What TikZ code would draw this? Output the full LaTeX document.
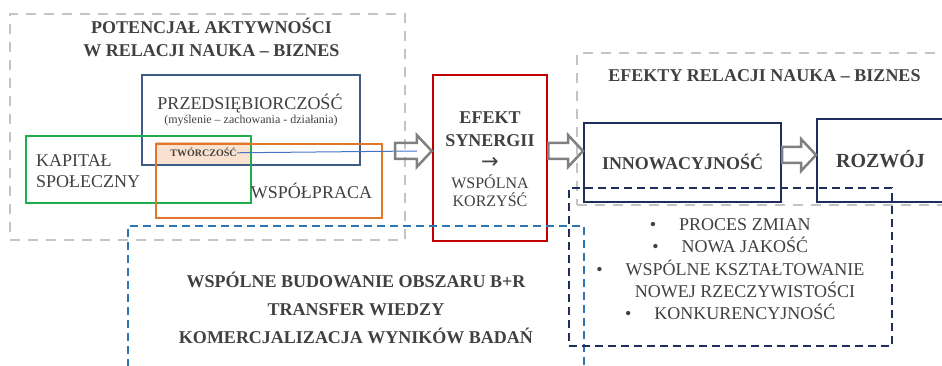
\documentclass[tikz,border=0pt]{standalone}
\usepackage{fontspec}
\setmainfont{Liberation Serif}
\newfontfamily\arrfont{DejaVu Sans}
\usetikzlibrary{calc,positioning}

\definecolor{txtgray}{HTML}{404040}
\definecolor{framegray}{HTML}{C4C4C4}
\definecolor{przedblue}{HTML}{3E5C86}
\definecolor{kapgreen}{HTML}{1FAE4B}
\definecolor{wsporange}{HTML}{E2772C}
\definecolor{tworfill}{HTML}{FBE2D0}
\definecolor{tworline}{HTML}{F2C4A2}
\definecolor{efred}{HTML}{C00000}
\definecolor{navy}{HTML}{1F2E5E}
\definecolor{dashblue}{HTML}{2E75B6}
\definecolor{tieblue}{HTML}{4472C4}
\definecolor{arrgray}{HTML}{808080}

\newcommand{\hdr}{\bfseries\fontsize{18}{22}\selectfont}
\newcommand{\reg}{\fontsize{18}{22}\selectfont}

\tikzset{
  grayframe/.style={draw=framegray, line width=1.5pt, dash pattern=on 10pt off 8pt, inner sep=0pt},
  solidbox/.style={draw, line width=2pt, inner sep=0pt},
  dashbox/.style={draw, line width=2.2pt, dash pattern=on 8pt off 5pt, inner sep=0pt},
  lbl/.style={anchor=base, text=txtgray, inner sep=0pt},
  blockarrow/.style={draw=arrgray, line width=2.5pt},
}

% strzalka blokowa od #1 do #2
\newcommand{\blockarr}[2]{%
  \draw[blockarrow] ($(#1)+(0,-8)$) -- ($(#2)+(-15,-8)$) -- ($(#2)+(-15,-16)$)
    -- (#2) -- ($(#2)+(-15,16)$) -- ($(#2)+(-15,8)$) -- ($(#1)+(0,8)$) -- cycle;}

\begin{document}
\begin{tikzpicture}[x=1pt, y=-1pt]
    \useasboundingbox (0,0) rectangle (942,366);
    \clip (0,0) rectangle (942,366);

    % ramki
    \node[grayframe, minimum width=395pt, minimum height=226pt] (potframe) at (207.5,127) {};
    \node[grayframe, minimum width=400pt, minimum height=152pt] (efframe) at (777,129) {};
    \node[lbl, font=\hdr] (pott1) at (211.5,34) {POTENCJAŁ AKTYWNOŚCI};
    \node[lbl, font=\hdr] (pott2) at (211.5,57) {W RELACJI NAUKA – BIZNES};
    \node[lbl, font=\hdr] (efft) at (764.5,82) {EFEKTY RELACJI NAUKA – BIZNES};

    % potencjal
    \node[draw=tworline, fill=tworfill, line width=1pt, minimum width=95pt, minimum height=23pt, inner sep=0pt] (twfill) at (203.5,154.5) {};
    \node[lbl, font=\bfseries\fontsize{10}{12}\selectfont] (twt) at (203.5,157) {TWÓRCZOŚĆ};
    \node[solidbox, draw=przedblue, minimum width=218pt, minimum height=90pt] (przed) at (251,120) {};
    \node[solidbox, draw=kapgreen, minimum width=225pt, minimum height=67pt] (kap) at (138.5,169.5) {};
    \node[solidbox, draw=wsporange, minimum width=226pt, minimum height=74pt] (wsp) at (269,181) {};
    \node[lbl, font=\reg] (przedt) at (250,110) {PRZEDSIĘBIORCZOŚĆ};
    \node[lbl, font=\fontsize{12}{14}\selectfont] (przeds) at (251,124) {(myślenie – zachowania - działania)};
    \node[lbl, anchor=base west, font=\reg] (kapt1) at (36,167) {KAPITAŁ};
    \node[lbl, anchor=base west, font=\reg] (kapt2) at (36,188) {SPOŁECZNY};
    \node[lbl, font=\reg] (wspt) at (311.5,199) {WSPÓŁPRACA};

    % efekt synergii
    \node[solidbox, draw=efred, line width=2.5pt, minimum width=114pt, minimum height=166pt] (efekt) at (490,158) {};
    \node[lbl, font=\hdr] (ef1) at (490,124) {EFEKT};
    \node[lbl, font=\hdr] (ef2) at (490,147) {SYNERGII};
    \node[lbl, font=\arrfont\fontsize{21}{22}\selectfont] (efarr) at (490,169) {→};
    \node[lbl, font=\fontsize{16}{18}\selectfont] (ef3) at (490,189) {WSPÓLNA};
    \node[lbl, font=\fontsize{16}{18}\selectfont] (ef4) at (490,207) {KORZYŚĆ};

    % efekty
    \node[solidbox, draw=navy, minimum width=197pt, minimum height=79pt] (innow) at (682.5,162.5) {};
    \node[solidbox, draw=navy, minimum width=126pt, minimum height=83pt] (rozw) at (880,160.5) {};
    \node[lbl, font=\hdr] (innowt) at (682.5,170) {INNOWACYJNOŚĆ};
    \node[lbl, font=\bfseries\fontsize{20}{24}\selectfont] (rozwt) at (880.5,168) {ROZWÓJ};

    % pola przerywane
    \node[dashbox, draw=dashblue, minimum width=456pt, minimum height=164pt] (wspbox) at (356,308) {};
    \node[dashbox, draw=navy, minimum width=323pt, minimum height=158pt] (bullbox) at (730.5,267) {};
    \node[lbl, font=\hdr] (wb1) at (356,287) {WSPÓLNE BUDOWANIE OBSZARU B+R};
    \node[lbl, font=\hdr] (wb2) at (356,315.5) {TRANSFER WIEDZY};
    \node[lbl, font=\hdr] (wb3) at (356,343) {KOMERCJALIZACJA WYNIKÓW BADAŃ};
    \node[lbl, font=\reg] (bl1) at (745,230) {\llap{\textbullet\hspace{23pt}}PROCES ZMIAN};
    \node[lbl, font=\reg] (bl2) at (745,252.5) {\llap{\textbullet\hspace{23pt}}NOWA JAKOŚĆ};
    \node[lbl, font=\reg] (bl3) at (745,275) {\llap{\textbullet\hspace{23pt}}WSPÓLNE KSZTAŁTOWANIE};
    \node[lbl, font=\reg] (bl4) at (745,297) {NOWEJ RZECZYWISTOŚCI};
    \node[lbl, font=\reg] (bl5) at (745,319) {\llap{\textbullet\hspace{23pt}}KONKURENCYJNOŚĆ};

    % strzalki
    \coordinate (a1s) at (395,151);
    \coordinate (a1e) at (efekt.west |- a1s);
    \coordinate (a2s) at (efekt.east |- a1s);
    \coordinate (a2e) at (innow.west |- a1s);
    \coordinate (a3s) at (innow.east |- 0,155);
    \coordinate (a3e) at (rozw.west |- 0,155);
    \coordinate (tieend) at ($(a1e)+(-15,0)$);
    \draw[tieblue, line width=1pt] (twt.east) -- (tieend);
    \blockarr{a1s}{a1e}
    \blockarr{a2s}{a2e}
    \blockarr{a3s}{a3e}
\end{tikzpicture}
\end{document}
